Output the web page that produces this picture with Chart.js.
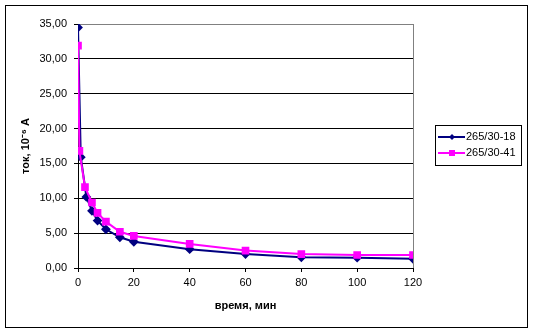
<!DOCTYPE html>
<html>
<head>
<meta charset="utf-8">
<script src="https://cdn.jsdelivr.net/npm/chart.js@4"></script>
<style>
  html, body { margin: 0; padding: 0; background: #fff; }
  #wrap { width: 535px; height: 333px; position: relative; }
</style>
</head>
<body>
<div id="wrap"><canvas id="chart"></canvas></div>
<script>
// данные
const seriesNames = ['265/30-18', '265/30-41'];
const times18 = [0, 1, 3, 5, 7, 10, 15, 20, 40, 60, 80, 100, 120];
const current18 = [34.5, 15.9, 10.2, 8.2, 6.8, 5.55, 4.4, 3.77, 2.7, 2.0, 1.53, 1.48, 1.33];
const times41 = [0, 0.5, 2.5, 5, 7, 10, 15, 20, 40, 60, 80, 100, 120];
const current41 = [31.9, 16.8, 11.6, 9.4, 7.9, 6.65, 5.2, 4.6, 3.45, 2.5, 2.0, 1.86, 1.86];
const xTicks = [0, 20, 40, 60, 80, 100, 120];
const yTicks = [0, 5, 10, 15, 20, 25, 30, 35];

const colors = ['#000080', '#FF00FF'];
const FONT = 'Arial, "Liberation Sans", sans-serif';

function toPoints(xs, ys) {
    return xs.map((x, i) => ({ x: x, y: ys[i] }));
}

// рамка диаграммы и серая граница области построения
const framePlugin = {
    id: 'frame',
    beforeDraw(chart) {
        const ctx = chart.ctx;
        ctx.save();
        ctx.fillStyle = '#fff';
        ctx.fillRect(0, 0, chart.width, chart.height);
        ctx.strokeStyle = '#000';
        ctx.lineWidth = 1;
        ctx.strokeRect(5.5, 5.5, 522, 322);
        ctx.restore();
    },
    beforeDatasetsDraw(chart) {
        const { ctx, chartArea: a } = chart;
        ctx.save();
        ctx.strokeStyle = '#808080';
        ctx.lineWidth = 1;
        ctx.beginPath();
        ctx.moveTo(Math.round(a.right) + 0.5, a.top);
        ctx.lineTo(Math.round(a.right) + 0.5, a.bottom);
        ctx.stroke();
        ctx.restore();
    }
};

// легенда в стиле Excel: линия с маркером
const legendPlugin = {
    id: 'excelLegend',
    afterDraw(chart) {
        const ctx = chart.ctx;
        ctx.save();
        ctx.strokeStyle = '#000';
        ctx.lineWidth = 1;
        ctx.strokeRect(435.5, 125.5, 86, 40);
        const rows = [137, 153];
        chart.data.datasets.forEach((ds, i) => {
            const y = rows[i];
            ctx.strokeStyle = ds.borderColor;
            ctx.lineWidth = 2;
            ctx.beginPath();
            ctx.moveTo(438, y);
            ctx.lineTo(465, y);
            ctx.stroke();
            ctx.fillStyle = ds.borderColor;
            if (i === 0) {
                ctx.beginPath();
                ctx.moveTo(452, y - 3); ctx.lineTo(455, y); ctx.lineTo(452, y + 3); ctx.lineTo(449, y);
                ctx.closePath(); ctx.fill();
            } else {
                ctx.fillRect(449, y - 3, 6, 6);
            }
            ctx.fillStyle = '#000';
            ctx.font = '11px ' + FONT;
            ctx.textBaseline = 'middle';
            ctx.fillText(ds.label, 466, y);
        });
        ctx.restore();
    }
};

new Chart(document.getElementById('chart'), {
    type: 'line',
    data: {
        datasets: [
            {
                label: seriesNames[0],
                data: toPoints(times18, current18),
                borderColor: colors[0],
                backgroundColor: colors[0],
                borderWidth: 2,
                pointStyle: 'rectRot',
                pointRadius: 3.5,
                tension: 0,
                order: 2
            },
            {
                label: seriesNames[1],
                data: toPoints(times41, current41),
                borderColor: colors[1],
                backgroundColor: colors[1],
                borderWidth: 2,
                pointStyle: 'rect',
                pointRadius: 4,
                tension: 0,
                order: 1
            }
        ]
    },
    options: {
        responsive: true,
        maintainAspectRatio: false,
        animation: false,
        layout: { padding: { left: 0, top: 24, right: 122, bottom: 0 } },
        plugins: { legend: { display: false }, tooltip: { enabled: false } },
        scales: {
            x: {
                type: 'linear',
                min: 0,
                max: 120,
                afterBuildTicks: s => { s.ticks = xTicks.map(v => ({ value: v })); },
                afterFit: s => { s.height = 65; },
                ticks: { color: '#000', font: { size: 11, family: FONT }, padding: 4, maxRotation: 0 },
                grid: { drawOnChartArea: false, drawTicks: true, tickLength: 4, color: '#000' },
                border: { color: '#000', width: 1 },
                title: {
                    display: true,
                    text: 'время, мин',
                    color: '#000',
                    font: { size: 11, weight: 'bold', family: FONT },
                    padding: { top: 20, bottom: 20 }
                }
            },
            y: {
                min: 0,
                max: 35,
                afterBuildTicks: s => { s.ticks = yTicks.map(v => ({ value: v })); },
                afterFit: s => { s.width = 78; },
                ticks: {
                    color: '#000',
                    font: { size: 11, family: FONT },
                    padding: 7,
                    callback: v => v.toFixed(2).replace('.', ',')
                },
                grid: {
                    color: c => (c.tick && c.tick.value === 35 ? '#808080' : '#000'),
                    tickColor: '#000',
                    tickLength: 4,
                    lineWidth: 1
                },
                border: { color: '#000', width: 1 },
                title: {
                    display: true,
                    text: 'ток, 10⁻⁶ А',
                    color: '#000',
                    font: { size: 11, weight: 'bold', family: FONT },
                    padding: { top: 19, bottom: 19 }
                }
            }
        }
    },
    plugins: [framePlugin, legendPlugin]
});
</script>
</body>
</html>
